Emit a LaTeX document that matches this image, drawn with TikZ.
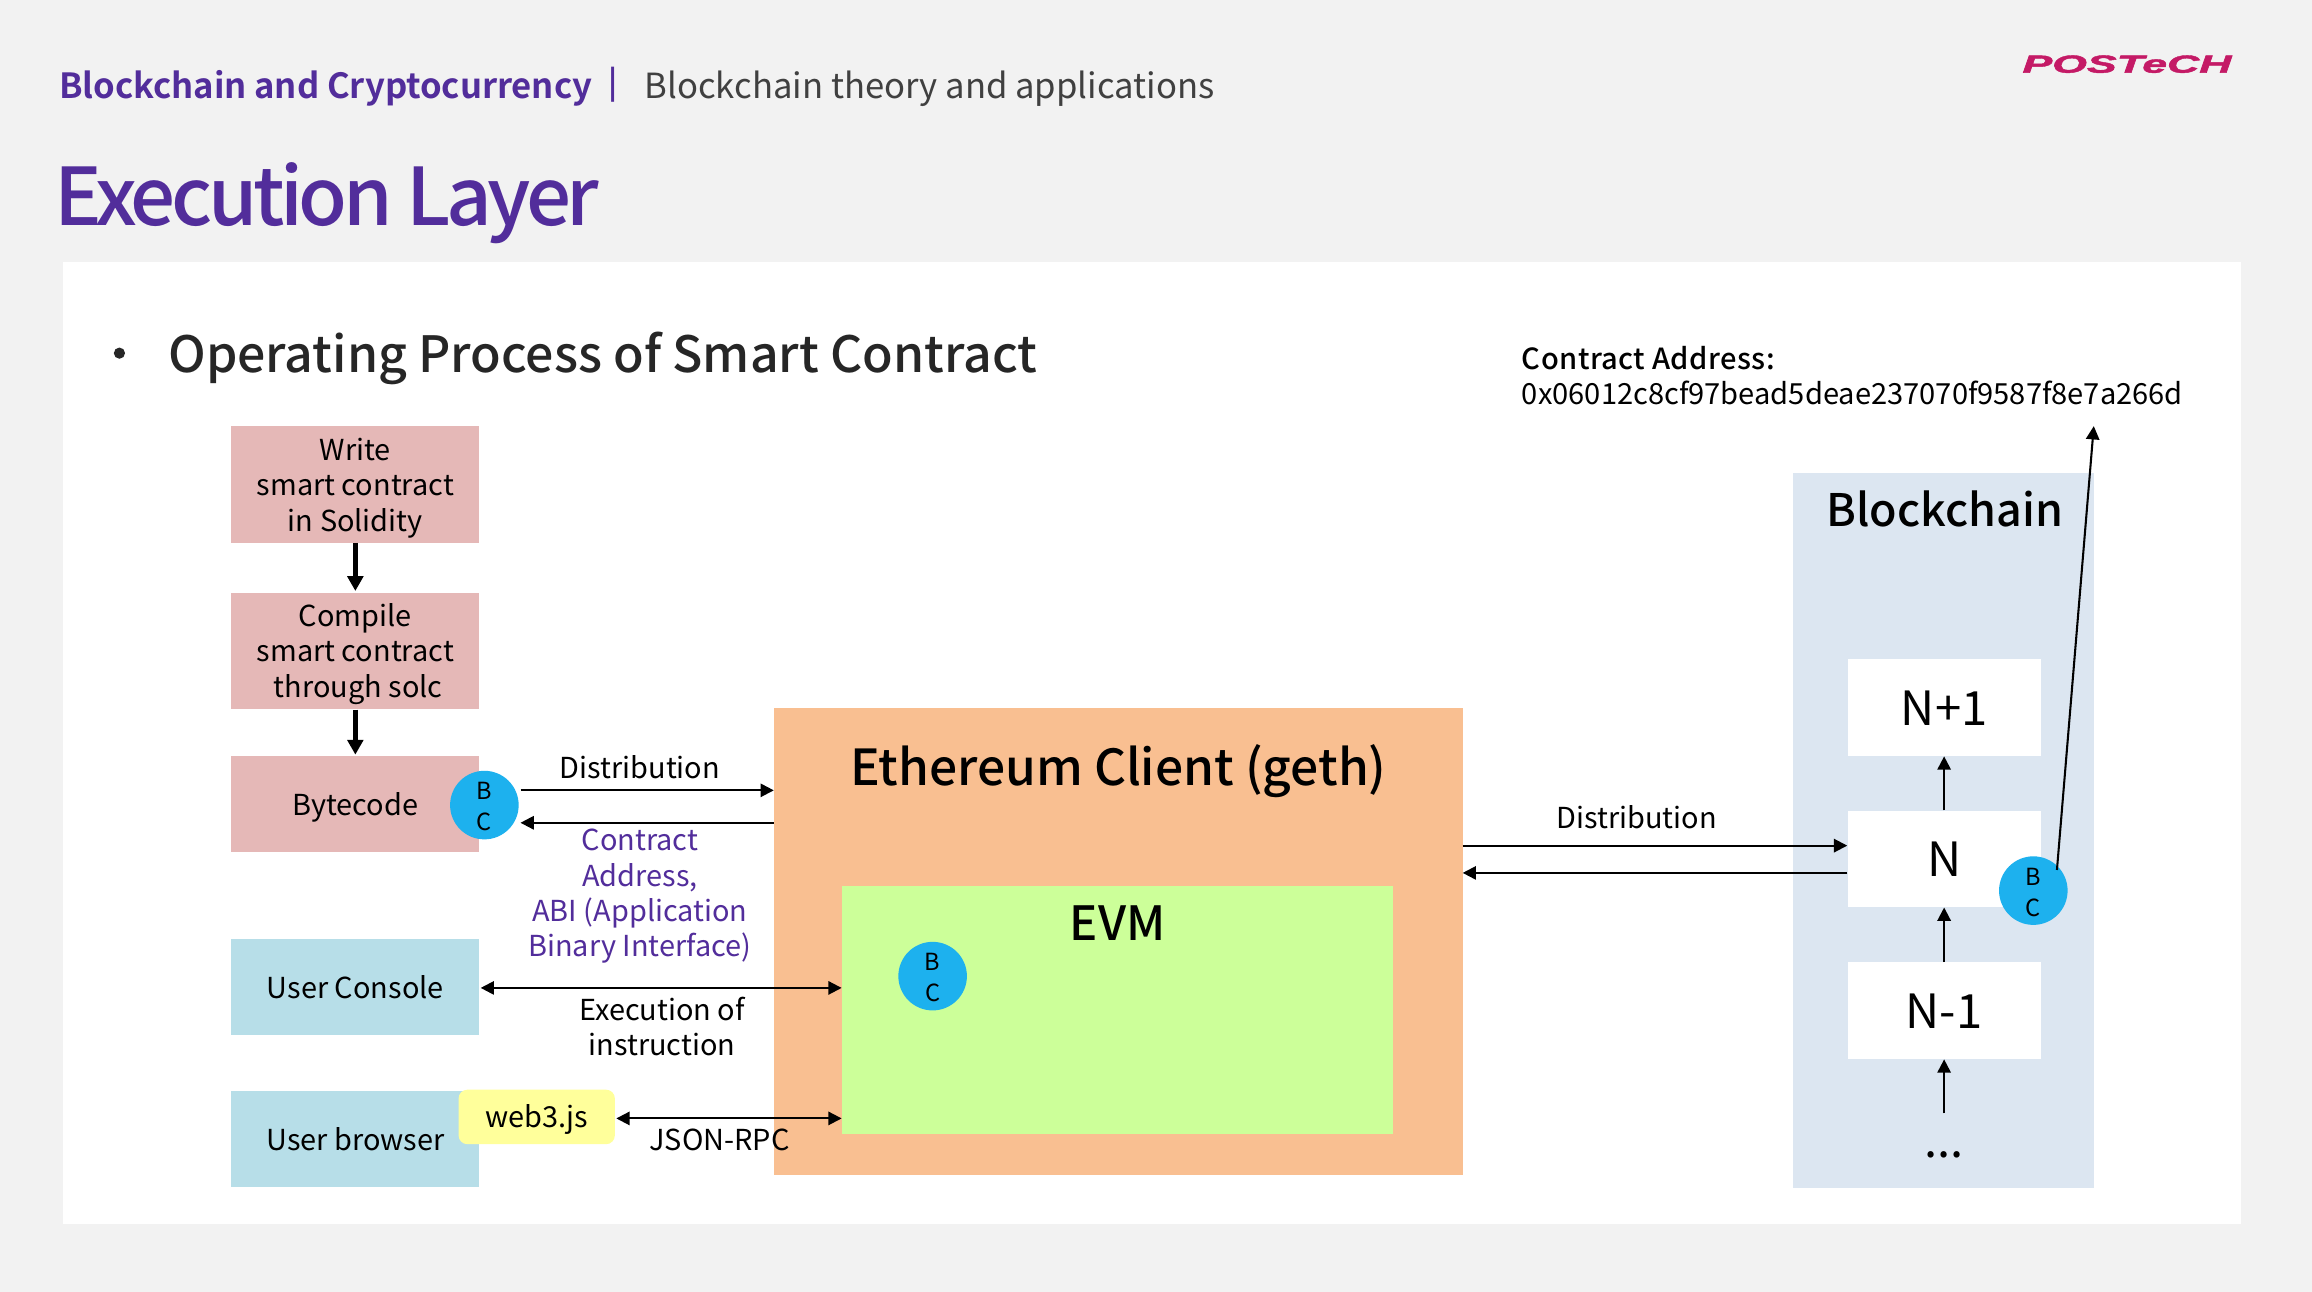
\documentclass[tikz,border=0pt]{standalone}
\usepackage{fontspec}
\usetikzlibrary{arrows.meta}
\setmainfont{Noto Sans CJK KR}
\newfontfamily\medfont{Noto Sans CJK KR Medium}
\newfontfamily\addrfont[LetterSpace=1.5]{Noto Sans CJK KR Medium}
\newfontfamily\titlefont[LetterSpace=-5.55]{Noto Sans CJK KR Medium}
\newfontfamily\hdrfont[LetterSpace=-0.2]{Noto Sans CJK KR Bold}
\newfontfamily\logofont[FakeBold=1.6]{Liberation Sans}
\definecolor{slidebg}{HTML}{F2F2F2}
\definecolor{purp}{HTML}{522D9B}
\definecolor{pinkbox}{HTML}{E5B8B7}
\definecolor{bluebox}{HTML}{B7DEE8}
\definecolor{yellowbox}{HTML}{FFFF9B}
\definecolor{orangebox}{HTML}{F9BF91}
\definecolor{greenbox}{HTML}{CCFF99}
\definecolor{chainbox}{HTML}{DCE6F1}
\definecolor{bccol}{HTML}{1DB1EE}
\definecolor{logocol}{HTML}{C41A66}
\newcommand{\dnstrut}[1]{\rule{0pt}{#1pt}}
\tikzset{
  x=1pt,y=-1pt,
  lab/.style={inner sep=0pt,align=center,text=black,font=\fontsize{19.6}{24}\selectfont},
  flat/.style={inner sep=0pt,align=center,draw=none},
  pinkn/.style={flat,fill=pinkbox,minimum width=168pt,text=black,font=\fontsize{19.6}{24}\selectfont},
  bluen/.style={flat,fill=bluebox,minimum width=168pt,minimum height=65pt,text=black,font=\fontsize{19.6}{24}\selectfont},
  blockn/.style={flat,fill=white,minimum width=131pt,minimum height=65.5pt,font=\fontsize{32}{38}\selectfont},
  bcn/.style={circle,flat,fill=bccol,minimum size=46.5pt,font=\fontsize{16}{21}\selectfont},
  thin arrow/.style={line width=1.4pt,-{Triangle[length=9pt,width=9pt]}},
  both arrow/.style={line width=1.4pt,{Triangle[length=9pt,width=9pt]}-{Triangle[length=9pt,width=9pt]}},
  thick arrow/.style={line width=3pt,-{Triangle[length=10pt,width=10.5pt]}},
}
\begin{document}
\begin{tikzpicture}
\useasboundingbox (0,0) rectangle (1568,876.2);
\fill[slidebg] (0,0) rectangle (1568,876.2);
\fill[white] (43,178) rectangle (1520,830);

% header
\node[anchor=west,inner sep=0pt,text=purp] (hdrA) at (40,60) {\fontsize{23.5}{28}\hdrfont Blockchain and Cryptocurrency};
\node[anchor=center,inner sep=0pt,text=purp] (hdrB) at (416,57.5) {\fontsize{21}{26}\hdrfont |};
\node[anchor=west,inner sep=0pt,text=black!75] (hdrC) at (437,60) {\fontsize{23.5}{28}\selectfont Blockchain theory and applications};
\node[anchor=west,inner sep=0pt,text=purp] (title) at (37,138) {\fontsize{54}{60}\selectfont\titlefont Execution Layer};
\node[inner sep=0pt,text=logocol,xscale=1.8] (logo) at (1442.5,43.5) {\fontsize{16.8}{17}\logofont\bfseries\itshape POSTeCH};

% bullet
\fill[black!85] (81,239.5) circle (3.8);
\node[anchor=west,inner sep=0pt,text=black!85] (bullet) at (114,243) {\fontsize{33.9}{42}\selectfont\medfont Operating Process of Smart Contract};

% left boxes
\node[pinkn,minimum height=79pt] (write) at (241,328.5) {\dnstrut{20}Write\\smart contract\\in Solidity};
\node[pinkn,minimum height=79pt] (compile) at (241,441.5) {\dnstrut{19.3}Compile\\smart contract\\\hspace*{4pt}through solc};
\node[pinkn,minimum height=65pt] (bytecode) at (241,545.5) {\dnstrut{20.3}Bytecode};
\node[bluen] (console) at (241,669.5) {User Console};
\node[bluen] (browser) at (241,772.5) {User browser};
\node[flat,fill=yellowbox,rounded corners=6pt,minimum width=106pt,minimum height=37pt,font=\fontsize{19.6}{24}\selectfont] (web3) at (364,757.5) {\dnstrut{19.3}web3.js};

% client
\node[flat,fill=orangebox,minimum width=467pt,minimum height=317pt] (client) at (758.5,638.5) {};
\node[flat,fill=greenbox,minimum width=374pt,minimum height=168pt] (evm) at (758,685) {};
\node[inner sep=0pt,font=\fontsize{33.7}{40}\selectfont\medfont] (clientlab) at (758.5,523) {Ethereum Client (geth)};
\node[inner sep=0pt,font=\fontsize{32}{38}\selectfont\medfont] (evmlab) at (758,626) {EVM};

% blockchain
\node[flat,fill=chainbox,minimum width=204pt,minimum height=485pt] (chain) at (1318,563.5) {};
\node[inner sep=0pt,font=\fontsize{30.4}{38}\selectfont\medfont] (chainlab) at (1319,345) {Blockchain};
\node[blockn] (np) at (1318.5,480) {N+1};
\node[blockn] (n) at (1318.5,582.5) {N};
\node[blockn] (nm) at (1318.5,685.5) {N-1};
\node[inner sep=0pt,font=\fontsize{32}{38}\selectfont] (dots) at (1318.5,783) {...};

% BC circles
\node[bcn] (bc1) at (328.5,546) {\dnstrut{13.7}B\\C};
\node[bcn] (bc2) at (632.5,662) {\dnstrut{13.7}B\\C};
\node[bcn] (bc3) at (1379,604) {\dnstrut{13.7}B\\C};

% free ends
\coordinate (d1s) at (353,536);
\coordinate (d2e) at (353,558);
\coordinate (uc) at (326,670);
\coordinate (w3) at (418,758.5);
\coordinate (r1) at (992,573.5);
\coordinate (r2) at (992,592);
\coordinate (dotstop) at (1318.5,755);
\coordinate (bcout) at (1395,590);
\coordinate (addr) at (1420,289);

% arrows
\draw[thick arrow] (write.south) -- ([yshift=1pt]compile.north);
\draw[thick arrow] (compile.south) -- ([yshift=1pt]bytecode.north);
\draw[thin arrow] (d1s) -- (d1s -| client.west);
\draw[thin arrow] (d2e -| client.west) -- (d2e);
\draw[both arrow] (uc) -- (uc -| evm.west);
\draw[both arrow] (w3) -- (w3 -| evm.west);
\draw[thin arrow] (r1) -- (r1 -| n.west);
\draw[thin arrow] (r2 -| n.west) -- (r2);
\draw[thin arrow] (nm.north) -- (n.south);
\draw[thin arrow] (n.north) -- (np.south);
\draw[thin arrow] (dotstop) -- (nm.south);
\draw[thin arrow] (bcout) -- (addr);

% labels
\node[lab] (l1) at (434,520) {Distribution};
\node[lab,text=purp] (l2) at (434,608) {Contract\\Address,\\ABI (Application\\Binary Interface)};
\node[lab] (l3) at (449,696) {Execution of\\instruction};
\node[lab] (l4) at (488,773) {JSON-RPC};
\node[lab] (l5) at (1110,554) {Distribution};
\node[lab,anchor=north west,align=left,font=\fontsize{19.73}{24}\selectfont] (l6) at (1032,234.5) {{\addrfont Contract Address:}\\0x06012c8cf97bead5deae237070f9587f8e7a266d};
\end{tikzpicture}
\end{document}
